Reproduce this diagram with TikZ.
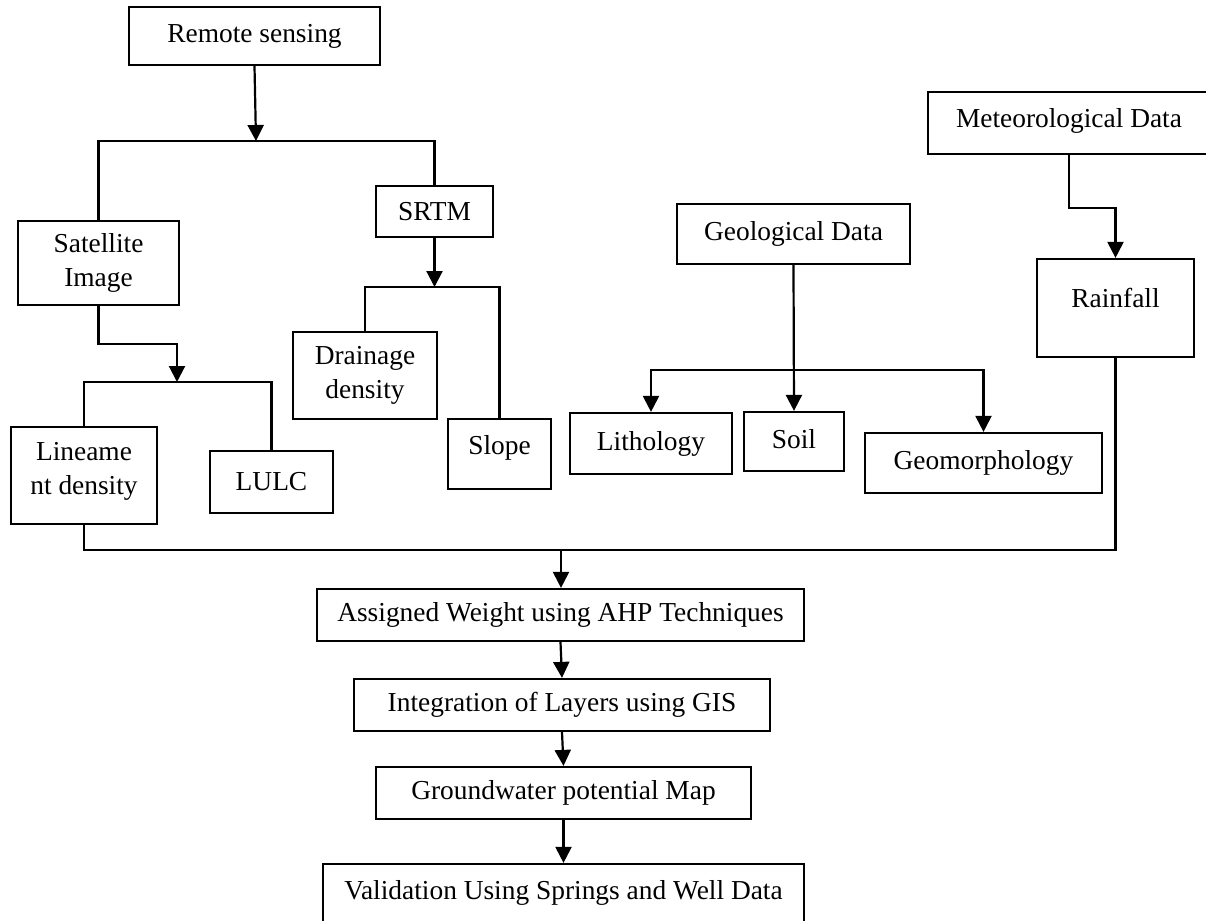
\documentclass[tikz,border=0pt]{standalone}
\usepackage{fontspec}
\setmainfont{Liberation Serif}
\usetikzlibrary{arrows.meta}

\tikzset{
  box/.style={draw, line width=1.1pt, inner sep=0pt},
  txt/.style={inner sep=0pt, align=center, font=\fontsize{13.7}{17}\selectfont},
  link/.style={line width=1.1pt},
  arr/.style={line width=1.1pt, -{Triangle[width=8pt,length=8pt]}},
}

% \boxnode{name}{x1}{y1}{x2}{y2}{text}{vertical text offset}
% corners are in picture units (1 unit = 0.5pt, y grows downwards)
\newcommand\boxnode[7]{%
  \node[box, minimum width={0.5pt*(#4-#2)}, minimum height={0.5pt*(#5-#3)},
        label={[txt,yshift=#7]center:{#6}}]
    (#1) at ({(#2+#4)/2},{(#3+#5)/2}) {};%
}

\begin{document}
\begin{tikzpicture}[x=0.5pt,y=-0.5pt]
  \useasboundingbox (0,0) rectangle (1206,921);
  \clip (0,0) rectangle (1206,921);

  % boxes
  \boxnode{rs}{129}{7}{380}{65}{Remote sensing}{0pt}
  \boxnode{sat}{18}{221}{179}{305}{Satellite\\Image}{0pt}
  \boxnode{srtm}{376}{186}{493}{237}{SRTM}{0pt}
  \boxnode{dd}{293}{332}{437}{419}{Drainage\\density}{0pt}
  \boxnode{slope}{448}{419}{551}{489}{Slope}{3pt}
  \boxnode{lin}{11}{427}{157}{524}{Lineame\\nt density}{2pt}
  \boxnode{lulc}{210}{451}{333}{513}{LULC}{0pt}
  \boxnode{met}{928}{92}{1210}{154}{Meteorological Data}{1pt}
  \boxnode{rain}{1037}{259}{1194}{357}{Rainfall}{5pt}
  \boxnode{geo}{677}{204}{910}{264}{Geological Data}{0pt}
  \boxnode{lith}{570}{413}{732}{474}{Lithology}{0pt}
  \boxnode{soil}{744}{412}{844}{471}{Soil}{1pt}
  \boxnode{geom}{865}{433}{1102}{493}{Geomorphology}{0pt}
  \boxnode{ahp}{317}{589}{804}{641}{Assigned Weight using AHP Techniques}{0pt}
  \boxnode{gis}{354}{679}{770}{731}{Integration of Layers using GIS}{0pt}
  \boxnode{gwp}{376}{767}{751}{819}{Groundwater potential Map}{0pt}
  \boxnode{val}{323}{864}{804}{925}{Validation Using Springs and Well Data}{1pt}

  % junction points of the bracket connectors
  \coordinate (jrs)   at (256,141);
  \coordinate (jsrtm) at (srtm.south |- 0,287);
  \coordinate (jsat)  at (177,382);
  \coordinate (jgeo)  at (geo.south |- 0,370);
  \coordinate (jall)  at (561,550);

  % remote sensing branch
  \draw[arr]  (rs.south) -- (jrs);
  \draw[link] (sat.north) |- (jrs) -| (srtm.north);
  \draw[arr]  (srtm.south) -- (jsrtm);
  \draw[link] (dd.north) |- (jsrtm) -| (slope.north);
  \draw[arr]  (sat.south) -- ++(0,38) -| (jsat);
  \draw[link] (lin.north) |- (jsat) -| (lulc.north);

  % meteorological branch
  \draw[arr]  (met.south) -- ++(0,53) -| (rain.north);

  % geological branch
  \draw[arr]  (geo.south) -- (soil.north);
  \draw[arr]  (jgeo) -| (lith.north);
  \draw[arr]  (jgeo) -| (geom.north);

  % all layers collected into the weighting step
  \draw[link] (lin.south) |- (jall) -| (rain.south);
  \draw[arr]  (jall) -- (jall |- ahp.north);

  % processing chain
  \draw[arr]  (ahp.south) -- (gis.north);
  \draw[arr]  (gis.south) -- (gwp.north);
  \draw[arr]  (gwp.south) -- (val.north);
\end{tikzpicture}
\end{document}
